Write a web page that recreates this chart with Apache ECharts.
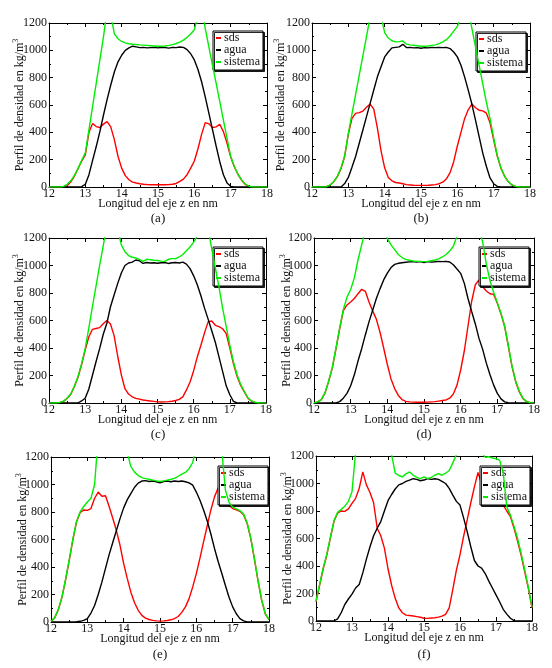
<!DOCTYPE html>
<html><head><meta charset="utf-8">
<script src="https://cdn.jsdelivr.net/npm/echarts@6/dist/echarts.min.js"></script>
<style>html,body{margin:0;padding:0;background:#fff}#c{width:552px;height:668px}</style>
</head><body><div id="c"></div>
<script>
// Sample positions along z (nm)
const zPos = [12.0,12.1,12.2,12.3,12.4,12.5,12.6,12.7,12.8,12.9,
  13.0,13.1,13.2,13.3,13.4,13.5,13.6,13.7,13.8,13.9,
  14.0,14.1,14.2,14.3,14.4,14.5,14.6,14.7,14.8,14.9,
  15.0,15.1,15.2,15.3,15.4,15.5,15.6,15.7,15.8,15.9,
  16.0,16.1,16.2,16.3,16.4,16.5,16.6,16.7,16.8,16.9,
  17.0,17.1,17.2,17.3,17.4,17.5,17.6,17.7,17.8,17.9,
  18.0];
const xTickLabels = [12,13,14,15,16,17,18];
const yTickLabels = [0,200,400,600,800,1000,1200];
const seriesNames = ['sds','agua','sistema'];
const panelTags = ['(a)','(b)','(c)','(d)','(e)','(f)'];

// Panel (a)
const sdsA = [0,0,0,0,0,8,38,80,135,190, 235,400,465,442,435,460,478,440,345,223, 138,83,53,36,29,24,20,18,17,16, 16,16,17,18,20,26,41,58,90,138, 190,280,385,471,462,435,440,459,405,320, 220,148,93,50,20,5,0,0,0,0, 0];
const aguaA = [0,0,0,0,0,0,0,0,0,3, 20,90,195,296,405,527,641,746,843,916, 964,1000,1018,1030,1025,1020,1022,1018,1020,1022, 1018,1022,1020,1016,1022,1020,1024,1022,1005,975, 930,860,770,660,540,420,300,185,90,30, 5,0,0,0,0,0,0,0,0,0, 0];
const sistemaA = [0,0,0,0,5,20,45,85,135,195, 250,420,590,760,930,1100,1300,1260,1120,1085, 1065,1055,1048,1045,1043,1040,1038,1036,1034,1032, 1030,1030,1032,1036,1042,1050,1060,1075,1095,1120, 1150,1260,1320,1160,1025,890,760,625,490,355, 225,150,95,52,22,6,0,0,0,0, 0];
// Panel (b)
const sdsB = [0,0,0,0,2,14,38,78,135,225, 385,502,539,544,556,583,607,570,430,265, 140,70,45,33,29,24,17,15,13,12, 12,12,13,15,17,24,35,60,105,185, 300,400,500,565,607,580,562,557,540,470, 345,225,138,78,40,15,5,0,0,0, 0];
const aguaB = [0,0,0,0,0,0,0,0,0,25, 70,145,223,320,417,515,612,710,806,880, 952,988,1018,1022,1025,1044,1020,1022,1018,1020, 1015,1020,1018,1022,1020,1022,1020,1022,1013,988, 952,891,806,709,607,490,369,248,150,66, 24,5,0,0,0,0,0,0,0,0, 0];
const sistemaB = [0,0,0,0,2,15,40,80,140,230, 393,535,676,818,960,1100,1245,1350,1350,1250, 1130,1090,1070,1062,1064,1068,1045,1040,1037,1034, 1030,1030,1032,1036,1040,1049,1062,1078,1105,1140, 1175,1250,1350,1300,1160,1025,890,755,620,500, 360,230,140,80,40,15,5,0,0,0, 0];
// Panel (c)
const sdsC = [0,0,0,4,12,33,62,118,185,278, 385,480,535,542,548,577,600,575,490,340, 205,104,65,45,34,28,22,18,15,12, 8,7,8,10,13,18,26,45,95,153, 235,335,420,510,590,596,565,555,540,505, 400,285,195,128,80,35,13,4,0,0, 0];
const aguaC = [0,0,0,0,0,0,0,0,0,15, 35,100,200,300,395,500,580,700,785,870, 945,1000,1018,1025,1040,1035,1015,1022,1018,1020, 1016,1020,1022,1015,1020,1022,1018,1025,1010,977, 925,860,780,690,610,525,440,335,230,125, 60,12,0,0,0,0,0,0,0,0, 0];
const sistemaC = [0,0,0,4,13,35,65,122,190,285, 395,545,700,850,1001,1145,1290,1400,1350,1260, 1150,1100,1072,1060,1055,1045,1030,1045,1042,1038, 1036,1032,1030,1045,1050,1050,1062,1080,1108,1135, 1170,1215,1350,1380,1265,1120,980,845,690,555, 420,298,205,135,85,38,15,5,0,0, 0];
// Panel (d)
const sdsD = [0,8,24,72,157,255,395,540,672,713, 735,760,795,827,812,735,670,610,515,400, 280,175,105,55,25,12,8,6,5,5, 5,6,8,10,14,18,22,35,65,130, 240,380,560,740,860,895,845,815,795,790, 725,648,555,412,265,155,80,32,9,2, 0];
const aguaD = [0,0,0,0,0,0,0,10,35,70, 125,205,305,395,495,590,675,760,830,895, 945,985,1008,1016,1020,1024,1026,1028,1025,1028, 1022,1028,1025,1027,1030,1028,1030,1025,1005,975, 943,870,760,665,575,470,390,290,205,130, 70,30,8,2,0,0,0,0,0,0, 0];
const sistemaD = [0,8,25,75,160,260,400,545,680,770, 825,910,1040,1150,1260,1350,1400,1400,1350,1280, 1195,1150,1115,1080,1058,1045,1038,1033,1030,1030, 1028,1030,1035,1040,1048,1062,1080,1105,1140,1215, 1300,1380,1420,1400,1350,1270,1170,1010,890,805, 730,652,560,420,270,160,85,35,10,2, 0];
// Panel (e)
const sdsE = [5,30,88,178,305,445,595,725,795,815, 812,825,900,945,915,918,840,755,665,558, 425,315,215,140,85,48,28,18,12,8, 6,8,11,16,25,40,70,110,170,255, 352,465,585,700,815,910,975,960,900,850, 825,815,805,780,715,605,455,295,155,58, 18];
const aguaE = [0,0,0,0,0,0,0,2,5,12, 25,65,120,200,290,390,490,578,665,752, 830,890,935,980,1010,1025,1028,1022,1025,1020, 1012,1022,1025,1020,1025,1022,1025,1020,1012,995, 945,885,815,735,640,535,440,355,265,180, 110,60,25,8,0,0,0,0,0,0, 0];
const sistemaE = [5,30,90,180,310,450,600,730,800,840, 873,900,1000,1350,1500,1500,1500,1500,1500,1450, 1400,1230,1130,1090,1065,1050,1043,1038,1032,1026, 1022,1026,1032,1038,1045,1060,1075,1088,1115,1160, 1280,1400,1500,1500,1500,1500,1450,1250,960,870, 835,822,810,785,720,610,460,300,160,60, 20];
// Panel (f)
const sdsF = [140,260,380,480,605,725,785,800,797,815, 855,892,964,1085,990,935,860,675,620,530, 380,260,165,95,60,43,40,36,32,27, 20,19,22,24,28,35,48,96,230,370, 482,615,735,860,975,1080,1000,885,890,870, 855,850,842,800,760,675,580,475,355,235, 95];
const aguaF = [0,0,0,0,0,0,15,60,120,160, 195,240,265,350,450,540,620,675,723,800, 875,920,960,990,1000,1015,1025,1035,1030,1020, 1025,1036,1030,1035,1030,1015,1000,965,916,870, 843,750,650,540,440,400,385,345,290,240, 190,140,85,50,20,3,0,0,0,0, 0];
const sistemaF = [145,265,385,485,610,730,790,812,835,870, 940,1230,1400,1400,1400,1400,1400,1400,1400,1350, 1300,1210,1075,1058,1048,1070,1084,1060,1045,1036, 1048,1036,1045,1060,1072,1060,1075,1095,1150,1210, 1350,1400,1400,1400,1350,1300,1230,1190,1195,1185, 1180,1170,1080,830,770,690,600,490,370,245, 100];

const panelData = [
  [sdsA, aguaA, sistemaA], [sdsB, aguaB, sistemaB], [sdsC, aguaC, sistemaC],
  [sdsD, aguaD, sistemaD], [sdsE, aguaE, sistemaE], [sdsF, aguaF, sistemaF]
];

// Layout (pixels)
const layout = [
  {grid:{left:49, top:23, width:218, height:164}, leg:[213,31], tag:[158,219], ygap:21},
  {grid:{left:312, top:23, width:218, height:164}, leg:[476,32], tag:[421,219], ygap:23},
  {grid:{left:49, top:238, width:217, height:165}, leg:[213,247], tag:[158,435], ygap:21},
  {grid:{left:314, top:238, width:220, height:165}, leg:[479,247], tag:[424,435], ygap:19},
  {grid:{left:51, top:457, width:218, height:165}, leg:[218,466], tag:[160,655], ygap:20},
  {grid:{left:316, top:456, width:216, height:165}, leg:[480,466], tag:[424,655], ygap:20}
];
const colors = ['#ff0000', '#000000', '#00ee00'];
const FONT = '"Liberation Serif", "Times New Roman", serif';

const grids = [], xAxes = [], yAxes = [], series = [], legends = [], graphics = [];
const xMin = xTickLabels[0], xMax = xTickLabels[xTickLabels.length-1];
const yMin = yTickLabels[0], yMax = yTickLabels[yTickLabels.length-1];
const xInt = xTickLabels[1]-xTickLabels[0], yInt = yTickLabels[1]-yTickLabels[0];

function axisBase(show){
  return {
    axisLine:{show:true, onZero:false, lineStyle:{color:'#000', width:1}},
    axisTick:{show:true, inside:true, length:4, lineStyle:{color:'#000', width:1}},
    minorTick:{show:true, splitNumber:2, length:2, lineStyle:{color:'#000', width:1}},
    splitLine:{show:false},
    axisLabel:{show:show, color:'#111', fontFamily:FONT, fontSize:12, formatter:(v)=>String(v)},
    nameMoveOverlap:false
  };
}

layout.forEach((L, i) => {
  grids.push(Object.assign({containLabel:false}, L.grid));
  const xb = axisBase(true);
  xb.axisLabel.margin = 1;
  xAxes.push(Object.assign(xb, {type:'value', gridIndex:i, position:'bottom', min:xMin, max:xMax, interval:xInt,
    name:'Longitud del eje z en nm', nameLocation:'middle', nameGap:11,
    nameTextStyle:{fontFamily:FONT, fontSize:12, color:'#111'}}));
  xAxes.push(Object.assign(axisBase(false), {type:'value', gridIndex:i, position:'top', min:xMin, max:xMax, interval:xInt}));
  const yb = axisBase(true);
  yb.axisLabel.margin = 2;
  yAxes.push(Object.assign(yb, {type:'value', gridIndex:i, position:'left', min:yMin, max:yMax, interval:yInt,
    name:'Perfil de densidad en kg/m{sup|3}', nameLocation:'middle', nameGap:L.ygap,
    nameTextStyle:{fontFamily:FONT, fontSize:12, color:'#111', lineHeight:16,
      rich:{sup:{fontFamily:FONT, fontSize:8, color:'#111', verticalAlign:'top', lineHeight:8}}}}));
  yAxes.push(Object.assign(axisBase(false), {type:'value', gridIndex:i, position:'right', min:yMin, max:yMax, interval:yInt}));
  panelData[i].forEach((vals, k) => {
    series.push({
      type:'line', name:seriesNames[k], xAxisIndex:2*i, yAxisIndex:2*i,
      data: zPos.map((z, j) => [z, vals[j]]),
      showSymbol:false, symbol:'none', smooth:false, clip:true,
      lineStyle:{color:colors[k], width:1.4}, itemStyle:{color:colors[k]},
      emphasis:{disabled:true}, z:2+k
    });
  });
  legends.push({
    left:L.leg[0], top:L.leg[1], orient:'vertical', data:seriesNames,
    icon:'rect', itemWidth:5, itemHeight:2, itemGap:0,
    padding:[1,3,2,3], backgroundColor:'#fff', borderColor:'#000', borderWidth:1,
    shadowColor:'rgba(0,0,0,0.85)', shadowOffsetX:1.5, shadowOffsetY:1.5, shadowBlur:0,
    selectedMode:false,
    textStyle:{fontFamily:FONT, fontSize:12, color:'#111', lineHeight:11, padding:[0,0,0,-2]}
  });
  graphics.push({type:'text', x:L.tag[0], y:L.tag[1],
    style:{text:panelTags[i], textAlign:'center', textVerticalAlign:'middle', font:'13px ' + FONT, fill:'#111'}});
});

const chart = echarts.init(document.getElementById('c'), null, {renderer:'canvas'});
chart.setOption({
  animation:false, backgroundColor:'#fff',
  grid:grids, xAxis:xAxes, yAxis:yAxes, series:series, legend:legends, graphic:graphics
});
</script></body></html>
